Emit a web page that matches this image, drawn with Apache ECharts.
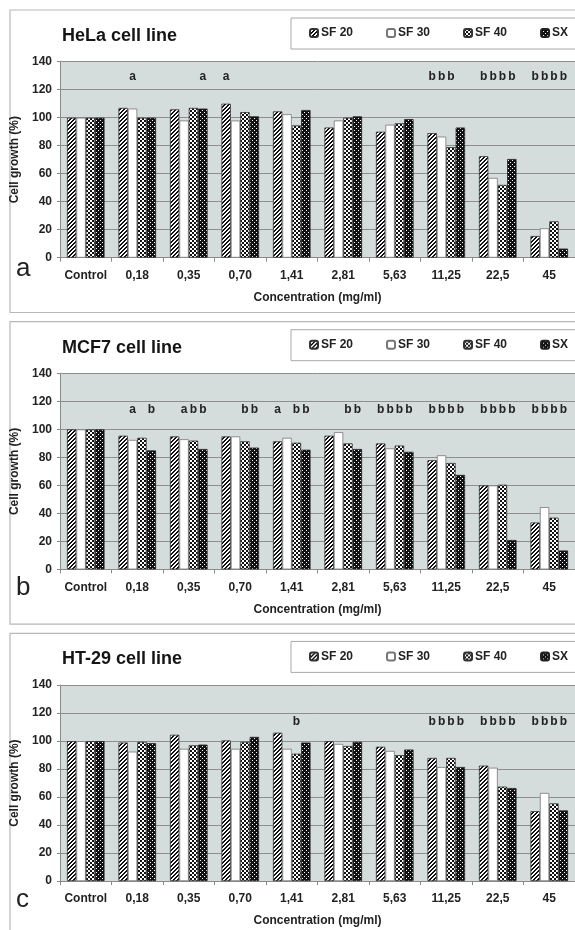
<!DOCTYPE html>
<html>
<head>
<meta charset="utf-8">
<script src="https://cdn.jsdelivr.net/npm/echarts@6/dist/echarts.min.js"></script>
<style>
  html, body { margin: 0; padding: 0; background: #fff; }
  #chart { width: 575px; height: 930px; }
</style>
</head>
<body>
<div id="chart"></div>
<script>
// concentrations (mg/ml)
const categories = ['Control', '0,18', '0,35', '0,70', '1,41', '2,81', '5,63', '11,25', '22,5', '45'];
const seriesNames = ['SF 20', 'SF 30', 'SF 40', 'SX'];
const panelTitles = ['HeLa cell line', 'MCF7 cell line', 'HT-29 cell line'];
const panelLetters = ['a', 'b', 'c'];

// cell growth (%)
const helaSF20 = [100, 107, 106, 110, 104.5, 93, 90, 89, 72.5, 15.5];
const helaSF30 = [100, 106.5, 98, 98, 102.5, 98, 95, 86.5, 57, 21];
const helaSF40 = [100, 100, 107, 104, 94.5, 100, 96, 79, 52, 26];
const helaSX = [100, 100, 106.5, 101, 105.5, 101, 99, 93, 70.5, 6.5];

const mcf7SF20 = [100, 95.5, 95, 95, 91.5, 95.5, 90, 78, 60, 33.5];
const mcf7SF30 = [100, 92.5, 93, 95, 94, 98, 86.5, 81.5, 60, 44.5];
const mcf7SF40 = [100, 94, 92, 91.5, 90.5, 90, 88.5, 76, 60.5, 37];
const mcf7SX = [100, 85, 86, 87, 85.5, 86, 84, 67.5, 21, 13.5];

const ht29SF20 = [100, 99, 104.5, 100.5, 106, 100, 96, 88, 82.5, 50];
const ht29SF30 = [100, 92.5, 94.5, 94.5, 94.5, 98, 93, 81.5, 81, 63];
const ht29SF40 = [100, 99.5, 97, 99.5, 91, 96.5, 90, 88, 67.5, 55.5];
const ht29SX = [100, 98.5, 97.5, 103, 99, 99.5, 94, 81.5, 66.5, 50.5];

// significance letters: [category index, series index, letter]
const helaMarks = [
  [1, 1, 'a'], [2, 3, 'a'], [3, 0, 'a'],
  [7, 0, 'b'], [7, 1, 'b'], [7, 2, 'b'],
  [8, 0, 'b'], [8, 1, 'b'], [8, 2, 'b'], [8, 3, 'b'],
  [9, 0, 'b'], [9, 1, 'b'], [9, 2, 'b'], [9, 3, 'b']
];
const mcf7Marks = [
  [1, 1, 'a'], [1, 3, 'b'],
  [2, 1, 'a'], [2, 2, 'b'], [2, 3, 'b'],
  [3, 2, 'b'], [3, 3, 'b'],
  [4, 0, 'a'], [4, 2, 'b'], [4, 3, 'b'],
  [5, 2, 'b'], [5, 3, 'b'],
  [6, 0, 'b'], [6, 1, 'b'], [6, 2, 'b'], [6, 3, 'b'],
  [7, 0, 'b'], [7, 1, 'b'], [7, 2, 'b'], [7, 3, 'b'],
  [8, 0, 'b'], [8, 1, 'b'], [8, 2, 'b'], [8, 3, 'b'],
  [9, 0, 'b'], [9, 1, 'b'], [9, 2, 'b'], [9, 3, 'b']
];
const ht29Marks = [
  [4, 2, 'b'],
  [7, 0, 'b'], [7, 1, 'b'], [7, 2, 'b'], [7, 3, 'b'],
  [8, 0, 'b'], [8, 1, 'b'], [8, 2, 'b'], [8, 3, 'b'],
  [9, 0, 'b'], [9, 1, 'b'], [9, 2, 'b'], [9, 3, 'b']
];
const markLevel = [129, 114, 114];

const panels = [
  [helaSF20, helaSF30, helaSF40, helaSX],
  [mcf7SF20, mcf7SF30, mcf7SF40, mcf7SX],
  [ht29SF20, ht29SF30, ht29SF40, ht29SX]
];
const panelMarks = [helaMarks, mcf7Marks, ht29Marks];

// fill patterns
function makePattern(size, isDark) {
  const c = document.createElement('canvas');
  c.width = c.height = size;
  const ctx = c.getContext('2d');
  ctx.fillStyle = '#fff';
  ctx.fillRect(0, 0, size, size);
  ctx.fillStyle = '#111';
  for (let x = 0; x < size; x++) {
    for (let y = 0; y < size; y++) {
      if (isDark(x, y)) ctx.fillRect(x, y, 1, 1);
    }
  }
  return { image: c, repeat: 'repeat' };
}
const hatch = makePattern(4, (x, y) => (x + y) % 4 < 2);
const checker = makePattern(4, (x, y) => ((x >> 1) + (y >> 1)) % 2 === 0);
const darkChecker = makePattern(4, (x, y) => !(x % 2 === 0 && y % 2 === 0 && (x + y) % 4 === 0));
const fills = [hatch, '#fff', checker, darkChecker];
const borders = ['#333', '#777', '#333', '#222'];

const font = '"Liberation Sans", Arial, sans-serif';
const step = 311.7;
const barGapRatio = 0.27;

const option = {
  animation: false,
  backgroundColor: '#fff',
  title: [], legend: [], grid: [], xAxis: [], yAxis: [], series: [], graphic: []
};

panels.forEach((data, k) => {
  const off = k * step;
  // panel frame and legend box
  option.graphic.push({
    type: 'rect', silent: true, z: -10,
    shape: { x: 10, y: 10 + off, width: 620, height: 302.5 },
    style: { fill: 'none', stroke: '#b8b8b8', lineWidth: 1.2 }
  });
  option.graphic.push({
    type: 'rect', silent: true, z: -10,
    shape: { x: 291, y: 18 + off, width: 320, height: 31 },
    style: { fill: '#fff', stroke: '#a8a8a8', lineWidth: 1 }
  });
  option.graphic.push({
    type: 'text', silent: true,
    x: 16, y: (k === 0 ? 281.5 : 289.5) + off,
    style: { text: panelLetters[k], fill: '#222', font: '26px ' + font, verticalAlign: 'bottom' }
  });
  option.title.push({
    text: panelTitles[k], left: 62, top: 27 + off, padding: 0,
    textStyle: { fontFamily: font, fontWeight: 'bold', fontSize: 18, color: '#151515' }
  });
  option.legend.push({
    data: seriesNames, left: 309, top: 27 + off,
    padding: 0, itemGap: 33, itemWidth: 8, itemHeight: 8,
    textStyle: { fontFamily: font, fontWeight: 'bold', fontSize: 12, color: '#222', padding: [0, 0, 0, -2] }
  });
  option.grid.push({
    left: 60, right: -2, top: 61.7 + off, height: 196,
    show: true, backgroundColor: '#d4dcdc', borderWidth: 0
  });
  option.xAxis.push({
    type: 'category', gridIndex: k, data: categories,
    name: 'Concentration (mg/ml)', nameLocation: 'middle', nameGap: 34,
    nameTextStyle: { fontFamily: font, fontWeight: 'bold', fontSize: 12, color: '#222' },
    axisLine: { lineStyle: { color: '#8a8a8a', width: 1 } },
    axisTick: { show: true, length: 4, lineStyle: { color: '#8a8a8a' } },
    axisLabel: { margin: 12, fontFamily: font, fontWeight: 'bold', fontSize: 12, color: '#222', interval: 0 }
  });
  option.yAxis.push({
    type: 'value', gridIndex: k, min: 0, max: 140, interval: 20,
    name: 'Cell growth (%)', nameLocation: 'middle', nameGap: 27,
    nameTextStyle: { fontFamily: font, fontWeight: 'bold', fontSize: 12, color: '#222' },
    axisLine: { show: true, lineStyle: { color: '#8a8a8a', width: 1 } },
    axisTick: { show: true, length: 3, lineStyle: { color: '#8a8a8a' } },
    axisLabel: { margin: 8, fontFamily: font, fontWeight: 'bold', fontSize: 12, color: '#222' },
    splitLine: { lineStyle: { color: '#8e8e8e', width: 1 } }
  });
  data.forEach((vals, s) => {
    option.series.push({
      type: 'bar', name: seriesNames[s], xAxisIndex: k, yAxisIndex: k,
      data: vals, barGap: '0%', barCategoryGap: (barGapRatio * 100) + '%',
      itemStyle: { color: fills[s], borderColor: borders[s], borderWidth: 0.8 }
    });
  });
  const marks = panelMarks[k];
  option.series.push({
    type: 'custom', xAxisIndex: k, yAxisIndex: k, silent: true, z: 5,
    data: marks.map(m => [m[0], markLevel[k]]),
    encode: { x: 0, y: 1 },
    renderItem: (params, api) => {
      const m = marks[params.dataIndex];
      const pt = api.coord([api.value(0), api.value(1)]);
      const band = api.size([1, 0])[0];
      const barW = band * (1 - barGapRatio) / 4;
      return {
        type: 'text',
        x: pt[0] + (m[1] - 1.5) * barW, y: pt[1],
        style: { text: m[2], fill: '#222', font: 'bold 12px ' + font, align: 'center', verticalAlign: 'middle' }
      };
    }
  });
});

const chart = echarts.init(document.getElementById('chart'), null, { renderer: 'canvas' });
chart.setOption(option);
</script>
</body>
</html>
